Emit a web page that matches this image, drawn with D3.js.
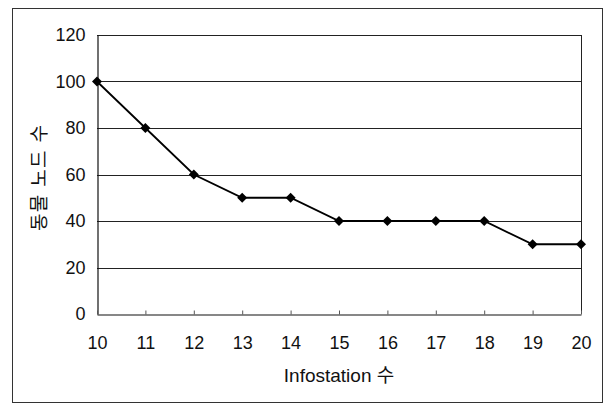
<!DOCTYPE html>
<html>
<head>
<meta charset="utf-8">
<script src="https://cdn.jsdelivr.net/npm/d3@7"></script>
<style>
  html, body { margin: 0; padding: 0; background: #fff; }
  svg { display: block; }
  text { font-family: "Liberation Sans", Arial, "Noto Sans CJK KR", sans-serif; fill: #111; }
</style>
</head>
<body>
<svg id="chart" width="605" height="405"></svg>
<script>
const categories = [10, 11, 12, 13, 14, 15, 16, 17, 18, 19, 20];
const nodeCounts = [100, 80, 60, 50, 50, 40, 40, 40, 40, 30, 30];
const yTicks = [0, 20, 40, 60, 80, 100, 120];
const xTitle = "Infostation 수";
const yTitle = "동물 노드 수";

const svg = d3.select("#chart");
const plot = { left: 97, right: 581, top: 35, bottom: 314 };

// outer frame
svg.append("rect")
  .attr("x", 12.5).attr("y", 8.5)
  .attr("width", 590).attr("height", 394)
  .attr("fill", "none").attr("stroke", "#333").attr("stroke-width", 1);

const x = d3.scalePoint().domain(categories).range([plot.left, plot.right]);
const y = d3.scaleLinear().domain([0, 120]).range([plot.bottom, plot.top]);

// gridlines
svg.append("g")
  .selectAll("line")
  .data(yTicks.filter(d => d > 0))
  .join("line")
  .attr("x1", plot.left).attr("x2", plot.right)
  .attr("y1", d => Math.round(y(d)) + 0.5).attr("y2", d => Math.round(y(d)) + 0.5)
  .attr("stroke", "#222").attr("stroke-width", 1);

// right border
svg.append("line")
  .attr("x1", plot.right + 0.5).attr("x2", plot.right + 0.5)
  .attr("y1", plot.top).attr("y2", plot.bottom)
  .attr("stroke", "#222").attr("stroke-width", 1);

// y axis
const yAxis = svg.append("g")
  .attr("transform", `translate(${plot.left + 0.5},0)`)
  .call(d3.axisLeft(y).tickValues(yTicks).tickSize(0).tickPadding(12));
yAxis.select(".domain").attr("stroke", "#111").attr("stroke-width", 1.2);
yAxis.selectAll("text").attr("font-size", 18).attr("fill", "#111")
  .attr("font-family", "'Liberation Sans', Arial, sans-serif");

// x axis
const xAxis = svg.append("g")
  .attr("transform", `translate(0,${plot.bottom + 0.5})`)
  .call(d3.axisBottom(x).tickSize(-4).tickPadding(22).tickSizeOuter(0));
xAxis.select(".domain").attr("stroke", "#111").attr("stroke-width", 1.2);
xAxis.selectAll(".tick line").attr("stroke", "#555");
xAxis.selectAll("text").attr("font-size", 18).attr("fill", "#111")
  .attr("font-family", "'Liberation Sans', Arial, sans-serif");

// line
const data = categories.map((c, i) => ({ c, v: nodeCounts[i] }));
svg.append("path")
  .datum(data)
  .attr("fill", "none")
  .attr("stroke", "#000")
  .attr("stroke-width", 1.8)
  .attr("d", d3.line().x(d => x(d.c)).y(d => y(d.v)));

// markers
svg.append("g")
  .selectAll("path")
  .data(data)
  .join("path")
  .attr("d", d3.symbol().type(d3.symbolSquare).size(50))
  .attr("transform", d => `translate(${x(d.c)},${y(d.v)}) rotate(45)`)
  .attr("fill", "#000");

// axis titles
svg.append("text")
  .attr("x", (plot.left + plot.right) / 2)
  .attr("y", 382)
  .attr("text-anchor", "middle")
  .attr("font-size", 19)
  .text(xTitle);

svg.append("text")
  .attr("transform", `translate(46,178) rotate(-90)`)
  .attr("text-anchor", "middle")
  .attr("font-size", 19)
  .attr("font-family", "'Noto Sans CJK KR', sans-serif")
  .attr("textLength", 106)
  .attr("lengthAdjust", "spacing")
  .text(yTitle);
</script>
</body>
</html>
